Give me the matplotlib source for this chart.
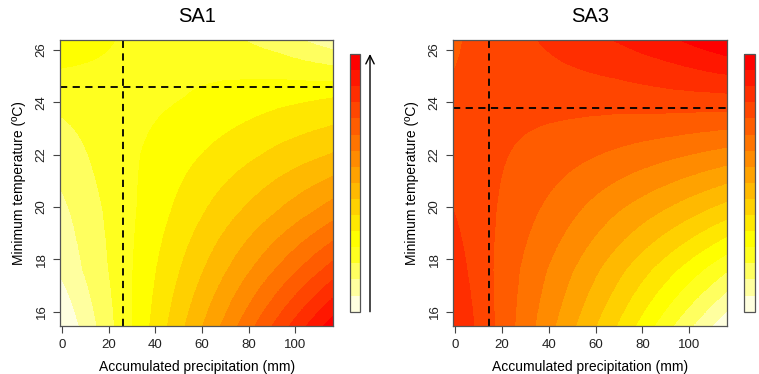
import colorsys
import numpy as np
import matplotlib
matplotlib.use("Agg")
from matplotlib import pyplot as plt
from matplotlib.colors import ListedColormap, BoundaryNorm
from matplotlib.cm import ScalarMappable

plt.rcParams['font.family'] = ['Liberation Sans', 'DejaVu Sans']

precip = [0, 23.2, 46.4, 69.6, 92.8, 116]
tmin = [15.4, 17.6, 19.8, 22.0, 24.2, 26.4]

sa1 = [[0.0, 3.1, 6.2, 9.3, 12.5, 15.7],
       [1.2, 3.3, 5.6, 7.9, 10.2, 12.5],
       [1.75, 3.4, 5.0, 6.6, 8.1, 9.6],
       [2.45, 3.6, 4.5, 5.4, 6.3, 7.1],
       [3.3, 3.6, 3.9, 4.3, 4.7, 5.0],
       [4.7, 4.0, 3.7, 3.3, 2.5, 1.4]]

sa3 = [[14.0, 11.3, 8.6, 5.9, 3.0, 0.2],
       [13.5, 11.4, 9.4, 7.3, 5.2, 3.1],
       [13.0, 11.7, 10.4, 9.0, 7.7, 6.4],
       [12.6, 12.0, 11.4, 10.8, 10.2, 9.6],
       [12.1, 12.3, 12.4, 12.5, 12.7, 12.8],
       [11.9, 12.6, 13.4, 14.1, 14.9, 15.9]]

# dashed reference lines (precipitation, temperature)
sa1_opt = (26, 24.6)
sa3_opt = (14.6, 23.8)

titles = ["SA1", "SA3"]
xticks = [0, 20, 40, 60, 80, 100]
yticks = [16, 18, 20, 22, 24, 26]

# R heat.colors(16), low value first
n = 16
j = n // 4
i = n - j
cols = [colorsys.hsv_to_rgb(h, 1, 1) for h in np.linspace(0, 1/6, i)]
cols += [colorsys.hsv_to_rgb(1/6, s, 1) for s in np.linspace(1 - 1/(2*j), 1/(2*j), j)]
cols = cols[::-1]
cmap = ListedColormap(cols)
norm = BoundaryNorm(np.arange(n + 1), n, clip=True)

fig = plt.figure(figsize=(7.59, 3.74), dpi=100)
W, H = 759, 374

axes_px = [(60, 333.3), (453, 727.3)]
cbar_px = [350, 744.3]
dx = precip[1] - precip[0]
dy = tmin[1] - tmin[0]
ext = [precip[0] - dx/2, precip[-1] + dx/2, tmin[0] - dy/2, tmin[-1] + dy/2]

for k, z in enumerate([sa1, sa3]):
    l, r = axes_px[k]
    ax = fig.add_axes([l / W, 1 - 326 / H, (r - l) / W, 286 / H])
    ax.imshow(np.array(z), origin='lower', extent=ext, aspect='auto', cmap=cmap, norm=norm,
              interpolation='bilinear', interpolation_stage='data')
    ax.set_xlim(-0.8, 116.2)
    ax.set_ylim(15.45, 26.38)
    opt = [sa1_opt, sa3_opt][k]
    ax.axvline(opt[0], color='black', lw=1.3, ls=(0, (4, 3)))
    ax.axhline(opt[1], color='black', lw=1.3, ls=(0, (4, 3)))
    ax.set_xticks(xticks)
    ax.set_yticks(yticks)
    ax.set_yticklabels([str(t) for t in yticks], rotation=90, va='center')
    ax.tick_params(length=5, width=0.8, color='#444444', labelsize=9.5, pad=4, labelcolor='#222222')
    for s in ax.spines.values():
        s.set_color('#555555')
        s.set_linewidth(0.9)
    ax.set_xlabel("Accumulated precipitation (mm)", fontsize=10, labelpad=7)
    ax.set_ylabel("Minimum temperature (ºC)", fontsize=10, labelpad=7)
    ax.set_title(titles[k], fontsize=14.5, pad=13)

    cax = fig.add_axes([cbar_px[k] / W, 1 - 311.7 / H, 10.4 / W, 257.7 / H])
    cb = fig.colorbar(ScalarMappable(norm=norm, cmap=cmap), cax=cax)
    cb.set_ticks([])
    cb.minorticks_off()
    cax.tick_params(which='both', length=0, labelright=False)
    cb.outline.set_edgecolor('#555555')
    cb.outline.set_linewidth(0.9)

# arrow next to the first colour bar
fig.add_artist(matplotlib.patches.FancyArrowPatch(
    (370 / W, 1 - 311.7 / H), (370 / W, 1 - 54 / H), transform=fig.transFigure,
    arrowstyle='->,head_length=0.6,head_width=0.3', mutation_scale=10,
    color='black', lw=1.0, shrinkA=0, shrinkB=0))

fig.savefig("out.png", dpi=100)
